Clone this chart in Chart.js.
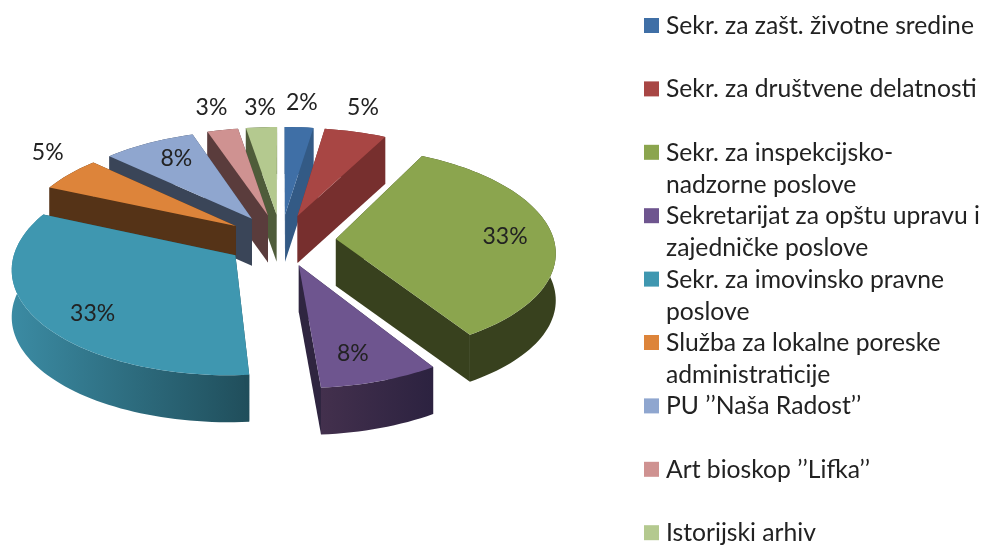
<!DOCTYPE html>
<html>
<head>
<meta charset="utf-8">
<style>
  html, body { margin: 0; padding: 0; background: #fff; }
  canvas { display: block; }
</style>
</head>
<body>
<canvas id="myChart" width="984" height="547"></canvas>
<script src="https://cdn.jsdelivr.net/npm/chart.js@4"></script>
<script>
var categories = [
  'Sekr. za zašt. životne sredine',
  'Sekr. za društvene delatnosti',
  ['Sekr. za inspekcijsko-', 'nadzorne poslove'],
  ['Sekretarijat za opštu upravu i', 'zajedničke poslove'],
  ['Sekr. za imovinsko pravne', 'poslove'],
  ['Služba za lokalne poreske', 'administraticije'],
  'PU ’’Naša Radost’’',
  'Art bioskop ’’Lifka’’',
  'Istorijski arhiv'
];
// they round to the printed percents
var shares = [2.4, 5.2, 33.4, 7.7, 32.8, 5.4, 7.8, 2.6, 2.6];

var topColors = ['#3f6fa6', '#a84644', '#8ba54e', '#6e558f', '#3f97b0', '#dd843a', '#8fa6cf', '#cf9291', '#b4c98f'];
var faceColors = ['#335a85', '#772f2e', '#38411e', '#2f2540', '#204e5b', '#553317', '#3a4558', '#5a3c3c', '#4f5c3a'];
var rimLeft = ['#335a85', '#772f2e', '#38411e', '#43304d', '#3b8ba3', '#553317', '#3a4558', '#5a3c3c', '#4f5c3a'];
var rimRight = ['#335a85', '#772f2e', '#38411e', '#2c2240', '#204e5b', '#553317', '#3a4558', '#5a3c3c', '#4f5c3a'];
// nudges of the percent labels from their place on the slice
var labelNudge = [[8, -57], [29, -56], [38, 0], [7, 21], [-27, 19], [-85, -41], [-11, -13], [-28, -54], [-7, -52]];

var tilt = 0.472, viewDist = 1950, wallHeight = 47, labelReach = 187;

function project(el, X, Y, drop) {
  var s = 1 / (1 - Y / viewDist);
  return { x: el.x + X * s, y: el.y + tilt * Y * s + (drop || 0) };
}

function fillPoly(ctx, pts, color) {
  ctx.beginPath();
  pts.forEach(function (p, i) { i ? ctx.lineTo(p.x, p.y) : ctx.moveTo(p.x, p.y); });
  ctx.closePath();
  ctx.fillStyle = color;
  ctx.fill();
}

function drawSlice(ctx, el, i) {
  var mid = (el.startAngle + el.endAngle) / 2;
  var off = el.options.offset;
  var R = el.outerRadius;
  var tx = off * Math.cos(mid), ty = off * Math.sin(mid);
  var steps = Math.max(3, Math.round((el.endAngle - el.startAngle) / 0.03));
  var rim = [];
  for (var n = 0; n <= steps; n++) {
    var a = el.startAngle + (el.endAngle - el.startAngle) * n / steps;
    rim.push({ X: tx + R * Math.cos(a), Y: ty + R * Math.sin(a) });
  }
  var tip = { X: tx, Y: ty };
  var rimTop = rim.map(function (p) { return project(el, p.X, p.Y); });
  var rimLow = rim.map(function (p) { return project(el, p.X, p.Y, wallHeight); });
  var xs = rimTop.map(function (p) { return p.x; });
  var grad = ctx.createLinearGradient(Math.min.apply(null, xs), 0, Math.max.apply(null, xs), 0);
  grad.addColorStop(0, rimLeft[i]);
  grad.addColorStop(1, rimRight[i]);

  function cutFace(end) {
    fillPoly(ctx, [project(el, tip.X, tip.Y), project(el, end.X, end.Y),
      project(el, end.X, end.Y, wallHeight), project(el, tip.X, tip.Y, wallHeight)], faceColors[i]);
  }
  var first = rim[0], last = rim[steps];
  if (first.Y > last.Y) { first = rim[steps]; last = rim[0]; }
  cutFace(first);
  fillPoly(ctx, rimTop.concat(rimLow.slice().reverse()), grad);
  cutFace(last);
  fillPoly(ctx, [project(el, tip.X, tip.Y)].concat(rimTop), topColors[i]);
}

var pie3d = {
  id: 'pie3d',
  beforeDatasetDraw: function (chart) {
    var ctx = chart.ctx;
    var arcs = chart.getDatasetMeta(0).data;
    var order = arcs.map(function (el, i) { return i; });
    function depth(i) { return Math.sin((arcs[i].startAngle + arcs[i].endAngle) / 2); }
    order.sort(function (a, b) { return depth(a) - depth(b); });
    ctx.save();
    order.forEach(function (i) { drawSlice(ctx, arcs[i], i); });
    ctx.restore();
    return false;
  },
  afterDraw: function (chart) {
    var ctx = chart.ctx;
    var total = shares.reduce(function (a, b) { return a + b; }, 0);
    ctx.save();
    ctx.textBaseline = 'middle';

    // percent labels
    ctx.font = '23px Lato';
    ctx.fillStyle = '#222';
    ctx.textAlign = 'center';
    chart.getDatasetMeta(0).data.forEach(function (el, i) {
      var mid = (el.startAngle + el.endAngle) / 2;
      var p = project(el, labelReach * Math.cos(mid), labelReach * Math.sin(mid));
      ctx.fillText(Math.round(shares[i] / total * 100) + '%', p.x + labelNudge[i][0], p.y + labelNudge[i][1]);
    });

    // legend: every entry takes two text rows
    ctx.font = '24.7px Lato';
    ctx.textAlign = 'left';
    categories.forEach(function (cat, i) {
      var y = 26 + 63.4 * i;
      ctx.fillStyle = topColors[i];
      ctx.fillRect(644, y - 8, 15, 15);
      ctx.fillStyle = '#222';
      [].concat(cat).forEach(function (line, n) {
        ctx.fillText(line, 666, y + n * 32);
      });
    });
    ctx.restore();
  }
};

new Chart(document.getElementById('myChart'), {
  type: 'pie',
  data: {
    labels: categories,
    datasets: [{
      data: shares,
      backgroundColor: topColors,
      borderWidth: 0,
      offset: 55
    }]
  },
  options: {
    responsive: false,
    animation: false,
    radius: 218,
    layout: { padding: { right: 422, bottom: 67 } },
    plugins: { legend: { display: false }, tooltip: { enabled: false } }
  },
  plugins: [pie3d]
});
</script>
</body>
</html>
